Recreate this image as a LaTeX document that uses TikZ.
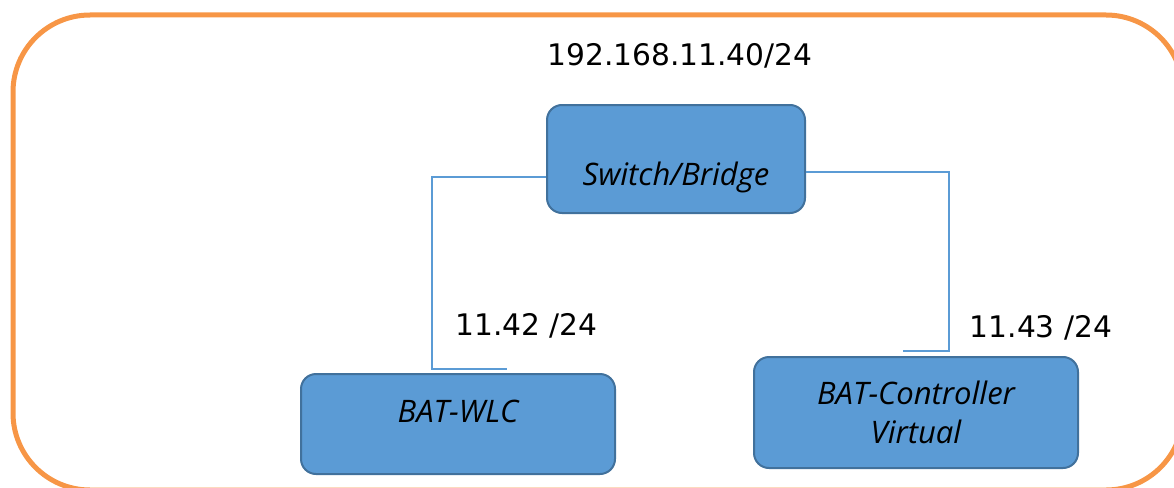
\documentclass[tikz,border=0pt]{standalone}
\usepackage{fontspec}
\setmainfont{Open Sans}
\newfontfamily\numfont{DejaVu Sans}
\usetikzlibrary{calc}
\definecolor{frameorange}{HTML}{F79646}
\definecolor{boxfill}{HTML}{5B9BD5}
\definecolor{boxline}{HTML}{41719C}
\definecolor{linkblue}{HTML}{5B9BD5}
\tikzset{
  devbox/.style={draw=boxline, fill=boxfill, line width=2pt, rounded corners=15pt,
    inner sep=0pt, font=\fontsize{31}{39}\selectfont\itshape, text=black},
  link/.style={draw=linkblue, line width=2pt},
  iplabel/.style={anchor=base, inner sep=0pt, font=\numfont\fontsize{29.7}{34}\selectfont}
}
\begin{document}
\begin{tikzpicture}[x=1pt,y=-1pt]
\clip (0,0) rectangle (1174,487);
\useasboundingbox (0,0) rectangle (1174,487);
\draw[frameorange, line width=5pt, rounded corners=77pt] (13,15) rectangle (1183,490);

\node[devbox, minimum width=258pt, text height=80pt, text depth=28pt] (sw) at (676,159) {Switch/Bridge};
\node[devbox, minimum width=314pt, text height=48pt, text depth=52pt] (wlc) at (458,424) {BAT-WLC};
\node[devbox, minimum width=324pt, minimum height=111pt, align=center] (ctl) at (916,412.5) {BAT-Controller\\Virtual};

\node[iplabel] (ip0) at (680,65) {192.168.11.40/24};
\node[iplabel] (ip1) at (526.5,335) {11.42 /24};
\node[iplabel] (ip2) at (1041,337) {11.43 /24};

\coordinate (lc) at (432,369);
\coordinate (wlcin) at (507,369);
\coordinate (rc) at (949,351);
\coordinate (ctlin) at (903,351);
\draw[link] ($(sw.west)+(0,18)$) -| (lc) -- (wlcin);
\draw[link] ($(sw.east)+(0,13)$) -| (rc) -- (ctlin);
\end{tikzpicture}
\end{document}
